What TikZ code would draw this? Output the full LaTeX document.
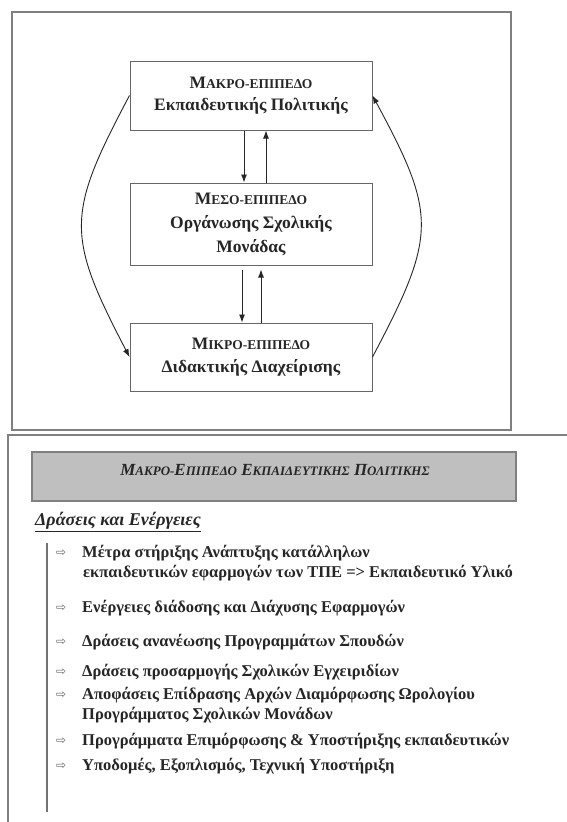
\documentclass[tikz,border=0pt]{standalone}
\usepackage{fontspec}
\setmainfont{Liberation Serif}
\newfontfamily\arrowfont{DejaVu Sans}
\usetikzlibrary{arrows.meta}
\newcommand\scGR[1]{{\fontsize{13.5}{15}\selectfont #1}}
\newcommand\scGRs[1]{{\fontsize{13}{15}\selectfont #1}}
\tikzset{
  framecol/.style={draw=black!50, line width=1.3pt},
  levelbox/.style={draw=black!60, line width=1pt, minimum width=242pt, align=center,
    inner sep=0pt, font=\fontsize{17.5}{22.5}\selectfont\bfseries, text=black!85},
  arr/.style={draw=black!85, line width=0.9pt, -{Latex[length=8pt,width=6pt]}},
  itemtext/.style={anchor=west, inner sep=0pt, align=left, text=black!85,
    font=\fontsize{16.5}{20}\selectfont\bfseries},
  bullet/.style={anchor=west, inner sep=0pt, text=black!60, font=\arrowfont\fontsize{12}{14}\selectfont}
}
\begin{document}
\begin{tikzpicture}[x=1pt,y=-1pt]
\useasboundingbox (0,0) rectangle (567,822);
% frames
\draw[framecol] (12,12) rectangle (511,430);
\draw[framecol] (567,435) -- (8,435) -- (8,822);

% level boxes
\node[levelbox, minimum height=69pt] (macro) at (251,95.5)
  {Μ\scGR{ΑΚΡΟ-ΕΠΙΠΕΔΟ}\\Εκπαιδευτικής Πολιτικής};
\node[levelbox, minimum height=82pt, font=\fontsize{17.5}{24}\selectfont\bfseries] (meso) at (251,224)
  {Μ\scGR{ΕΣΟ-ΕΠΙΠΕΔΟ}\\Οργάνωσης Σχολικής\\Μονάδας};
\node[levelbox, minimum height=68pt] (micro) at (251,357)
  {Μ\scGR{ΙΚΡΟ-ΕΠΙΠΕΔΟ}\\Διδακτικής Διαχείρισης};

% straight arrows
\draw[arr] ([xshift=-7pt]macro.south) -- ([xshift=-7pt]meso.north);
\draw[arr] ([xshift=15pt]meso.north) -- ([xshift=15pt]macro.south);
\draw[arr] ([xshift=-9pt,yshift=-4pt]meso.south) -- ([xshift=-9pt]micro.north);
\draw[arr] ([xshift=10pt]micro.north) -- ([xshift=10pt,yshift=-4pt]meso.south);

% curved arrows
\draw[arr] (macro.west) .. controls (66,215) and (66,235) .. (micro.west);
\draw[arr] (micro.east) .. controls (437,235) and (437,215) .. (macro.east);

% bottom section
\node[draw=black!50, line width=1.3pt, fill=black!25, minimum width=484pt, minimum height=49pt,
  inner sep=0pt] (headbox) at (274,476.5) {};
\node[inner sep=0pt, text=black!85, font=\fontsize{17}{19}\selectfont\bfseries\itshape]
  (headtext) at (275,470)
  {Μ\scGRs{ΑΚΡΟ-}Ε\scGRs{ΠΙΠΕΔΟ} Ε\scGRs{ΚΠΑΙΔΕΥΤΙΚΗΣ} Π\scGRs{ΟΛΙΤΙΚΗΣ}};

\node[anchor=west, inner sep=0pt, text=black!85, font=\fontsize{18}{20}\selectfont\bfseries\itshape]
  (actions) at (35,522) {\underline{Δράσεις και Ενέργειες}};

\coordinate (vtop) at (47,543);
\coordinate (vbot) at (47,812);
\draw[draw=black!55, line width=1.1pt] (vtop) -- (vbot);

\node[bullet] (b1) at (56,553) {⇨};
\node[itemtext] (i1) at (82,563) {Μέτρα στήριξης Ανάπτυξης κατάλληλων\\\hspace{1pt}εκπαιδευτικών εφαρμογών των ΤΠΕ => Εκπαιδευτικό Υλικό};
\node[bullet] (b2) at (56,608) {⇨};
\node[itemtext] (i2) at (82,608) {Ενέργειες διάδοσης και Διάχυσης Εφαρμογών};
\node[bullet] (b3) at (56,642) {⇨};
\node[itemtext] (i3) at (82,642) {Δράσεις ανανέωσης Προγραμμάτων Σπουδών};
\node[bullet] (b4) at (56,672) {⇨};
\node[itemtext] (i4) at (82,672) {Δράσεις προσαρμογής Σχολικών Εγχειριδίων};
\node[bullet] (b5) at (56,695) {⇨};
\node[itemtext] (i5) at (82,705) {Αποφάσεις Επίδρασης Αρχών Διαμόρφωσης Ωρολογίου\\Προγράμματος Σχολικών Μονάδων};
\node[bullet] (b6) at (56,741) {⇨};
\node[itemtext] (i6) at (82,741) {Προγράμματα Επιμόρφωσης \& Υποστήριξης εκπαιδευτικών};
\node[bullet] (b7) at (56,766) {⇨};
\node[itemtext] (i7) at (82,766) {Υποδομές, Εξοπλισμός, Τεχνική Υποστήριξη};
\end{tikzpicture}
\end{document}
